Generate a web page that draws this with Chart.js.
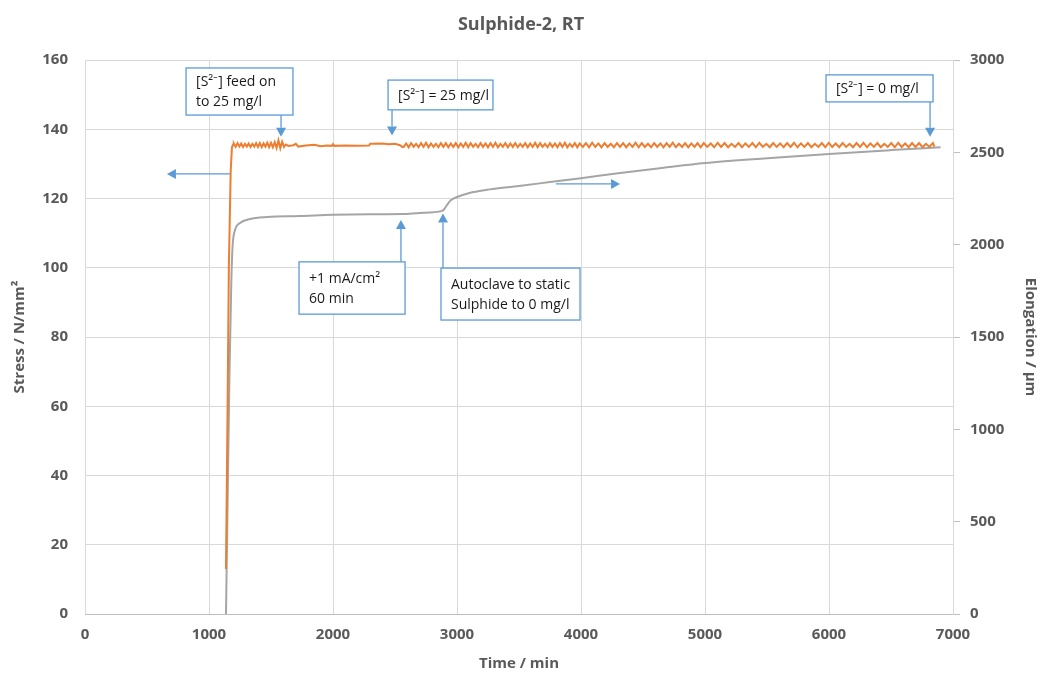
<!DOCTYPE html>
<html>
<head>
<meta charset="utf-8">
<script src="https://cdn.jsdelivr.net/npm/chart.js@4.4.0/dist/chart.umd.min.js"></script>
<style>
  html, body { margin: 0; padding: 0; background: #fff; }
  #wrap { width: 1042px; height: 677px; }
</style>
</head>
<body>
<div id="wrap"><canvas id="myChart" width="1042" height="677"></canvas></div>
<script>
// stress (orange, left axis) - time in min
let stressTime = [
  1137, 1150, 1160, 1175, 1185, 1195,
  1200, 1215, 1230, 1245, 1260, 1275, 1290, 1305, 1320, 1335, 1350, 1365,
  1380, 1395, 1410, 1425, 1440, 1455, 1470, 1485, 1500, 1515, 1530, 1545,
  1560, 1575, 1590, 1605, 1620, 1640, 1680, 1700, 1720, 1780, 1850, 1900,
  1950, 1990, 2000, 2010, 2100, 2200, 2290, 2300, 2400, 2450, 2500, 2540,
  2560,
  2570, 2590, 2610, 2630, 2650, 2670, 2690, 2710, 2730, 2750, 2770, 2790,
  2810, 2830, 2850, 2870, 2890, 2910, 2930, 2950, 2970, 2990, 3010, 3030,
  3050, 3070, 3090, 3110, 3130, 3150, 3170, 3190, 3210, 3230, 3250, 3270,
  3290, 3310, 3330, 3350, 3370, 3390, 3410, 3430, 3450, 3470, 3490, 3510,
  3530, 3550, 3570, 3590, 3610, 3630, 3650, 3670, 3690, 3710, 3730, 3750,
  3770, 3790, 3810, 3830, 3850, 3870, 3890, 3910, 3930, 3950, 3970, 3990,
  4015, 4040, 4065, 4090, 4115, 4140, 4165, 4190, 4215, 4240, 4265, 4290,
  4315, 4340, 4365, 4390, 4415, 4440, 4465, 4490, 4515, 4540, 4565, 4590,
  4615, 4640, 4665, 4690, 4715, 4740, 4765, 4790, 4815, 4840, 4865, 4890,
  4915, 4940, 4965, 4990,
  5018, 5046, 5074, 5102, 5130, 5158, 5186, 5214, 5242, 5270, 5298, 5326,
  5354, 5382, 5410, 5438, 5466, 5494, 5522, 5550, 5578, 5606, 5634, 5662,
  5690, 5718, 5746, 5774, 5802, 5830, 5858, 5886, 5914, 5942, 5970, 5998,
  6026, 6054, 6082, 6110, 6138, 6166, 6194, 6222, 6250, 6278, 6306, 6334,
  6362, 6390, 6418, 6446, 6474, 6502, 6530, 6558, 6586, 6614, 6642, 6670,
  6698, 6726, 6754, 6782, 6810, 6838, 6850
];
let stressValue = [
  13, 60, 100, 128, 134.8, 135.6,
  135.9, 134.9, 136.0, 135.0, 135.9, 134.9, 135.8, 135.0, 135.9, 134.9, 135.8, 135.0,
  136.0, 134.9, 136.0, 134.8, 135.9, 135.0, 136.1, 134.8, 136.1, 134.8, 136.3, 134.6,
  136.8, 134.5, 136.4, 134.9, 135.6, 135.2, 135.4, 135.8, 135.0, 135.3, 135.5, 135.1,
  135.3, 135.2, 135.7, 135.2, 135.3, 135.2, 135.3, 135.8, 135.9, 135.7, 135.8, 135.4,
  134.9,
  134.9, 135.9, 134.8, 136.0, 134.9, 135.8, 134.8, 136.0, 134.9, 136.1, 134.8, 135.9,
  134.9, 135.8, 134.8, 136.0, 134.9, 136.0, 134.8, 135.9, 134.9, 136.0, 134.8, 135.9,
  134.9, 136.1, 134.8, 136.0, 134.9, 135.8, 134.8, 136.0, 134.9, 135.9, 134.8, 136.0,
  134.9, 136.1, 134.8, 135.8, 134.9, 136.0, 134.8, 135.9, 134.9, 136.0, 134.8, 135.8,
  134.9, 136.0, 134.8, 135.9, 134.9, 136.1, 134.8, 136.0, 134.9, 135.8, 134.8, 136.0,
  134.9, 135.9, 134.8, 136.0, 134.9, 136.1, 134.8, 135.8, 134.9, 136.0, 134.8, 135.9,
  134.9, 136.0, 134.8, 136.1, 134.9, 135.9, 134.8, 136.0, 134.9, 135.8, 134.8, 136.0,
  134.9, 136.0, 134.8, 135.9, 134.9, 136.1, 134.8, 136.0, 134.9, 135.8, 134.8, 136.0,
  134.9, 135.9, 134.8, 136.0, 134.9, 136.1, 134.8, 135.8, 134.9, 136.0, 134.8, 135.9,
  134.9, 136.0, 134.8, 136.0,
  134.9, 135.9, 134.8, 136.1, 134.9, 136.0, 134.8, 135.8, 134.9, 136.0, 134.8, 135.9,
  134.9, 136.0, 134.8, 136.1, 134.9, 135.8, 134.8, 136.0, 134.9, 135.9, 134.8, 136.0,
  134.9, 136.1, 134.8, 135.9, 134.9, 136.0, 134.8, 135.8, 134.9, 136.0, 134.8, 136.1,
  134.9, 135.9, 134.8, 136.0, 134.9, 135.8, 134.8, 136.0, 134.9, 136.1, 134.8, 135.9,
  134.9, 136.0, 134.8, 135.8, 134.9, 136.0, 134.8, 136.1, 134.9, 135.9, 134.8, 136.0,
  134.9, 136.0, 134.8, 135.8, 134.9, 136.0, 135.0
];

// elongation (grey, right axis)
let elongTime = [
  1137, 1150, 1165, 1180, 1190, 1210, 1250, 1330, 1470, 1730, 2000, 2300,
  2560, 2700, 2880, 2900, 2920, 2950, 3000, 3100, 3230, 3500, 3750, 4000,
  4315, 4650, 5000, 5500, 6000, 6500, 6900
];
let elongValue = [
  0, 600, 1300, 1800, 1990, 2079, 2117, 2139, 2150, 2155, 2162, 2165,
  2166, 2172, 2183, 2195, 2215, 2240, 2258, 2280, 2296, 2318, 2339, 2360,
  2388, 2415, 2442, 2468, 2491, 2512, 2528
];

// axis ticks
let timeTicks = [0, 1000, 2000, 3000, 4000, 5000, 6000, 7000];
let stressTicks = [0, 20, 40, 60, 80, 100, 120, 140, 160];
let elongTicks = [0, 500, 1000, 1500, 2000, 2500, 3000];

// callout boxes (time / stress units)
let notes = [
  { x0: 815, x1: 1677, y0: 157.7, y1: 144.1, lines: ['[S\u00B2\u207B] feed on', 'to 25 mg/l'] },
  { x0: 2444, x1: 3290, y0: 154.2, y1: 145.6, lines: ['[S\u00B2\u207B] = 25 mg/l'] },
  { x0: 5976, x1: 6839, y0: 155.7, y1: 147.9, lines: ['[S\u00B2\u207B] = 0 mg/l'] },
  { x0: 1726, x1: 2581, y0: 101.7, y1: 86.6, lines: ['+1 mA/cm\u00B2', '60 min'] },
  { x0: 2871, x1: 3992, y0: 99.9, y1: 84.9, lines: ['Autoclave to static', 'Sulphide to 0 mg/l'] }
];
let arrows = [
  { x0: 1581, y0: 144.1, x1: 1581, y1: 137.8 },
  { x0: 2476, y0: 145.6, x1: 2476, y1: 138.2 },
  { x0: 6815, y0: 147.9, x1: 6815, y1: 137.8 },
  { x0: 2548, y0: 101.7, x1: 2548, y1: 113.8 },
  { x0: 2887, y0: 99.9, x1: 2887, y1: 115.7 },
  { x0: 1169, y0: 127.1, x1: 661, y1: 127.1 },
  { x0: 3798, y0: 124.2, x1: 4315, y1: 124.2 }
];

const grey = '#595959';
const blue = '#5b9bd5';

function toPoints(xs, ys) {
  return xs.map((x, i) => ({ x: x, y: ys[i] }));
}

const calloutPlugin = {
  id: 'callouts',
  afterDatasetsDraw(chart) {
    const c = chart.ctx;
    const sx = chart.scales.x, sy = chart.scales.y;
    c.save();
    c.strokeStyle = blue;
    c.fillStyle = blue;
    c.lineWidth = 1.3;
    arrows.forEach(a => {
      let px0 = sx.getPixelForValue(a.x0), py0 = sy.getPixelForValue(a.y0);
      let px1 = sx.getPixelForValue(a.x1), py1 = sy.getPixelForValue(a.y1);
      let ang = Math.atan2(py1 - py0, px1 - px0);
      let len = 9, w = 5;
      let bx = px1 - Math.cos(ang) * len, by = py1 - Math.sin(ang) * len;
      c.beginPath();
      c.moveTo(px0, py0);
      c.lineTo(bx, by);
      c.stroke();
      c.beginPath();
      c.moveTo(px1, py1);
      c.lineTo(bx - Math.sin(ang) * w, by + Math.cos(ang) * w);
      c.lineTo(bx + Math.sin(ang) * w, by - Math.cos(ang) * w);
      c.closePath();
      c.fill();
    });
    notes.forEach(n => {
      let l = sx.getPixelForValue(n.x0), r = sx.getPixelForValue(n.x1);
      let t = sy.getPixelForValue(n.y0), b = sy.getPixelForValue(n.y1);
      c.fillStyle = '#fff';
      c.fillRect(l, t, r - l, b - t);
      c.strokeStyle = blue;
      c.lineWidth = 1.3;
      c.strokeRect(l, t, r - l, b - t);
      c.fillStyle = '#1a1a1a';
      c.font = '14px "Open Sans", sans-serif';
      c.textBaseline = 'middle';
      c.textAlign = 'left';
      let mid = (t + b) / 2 + 1;
      let gap = 20;
      n.lines.forEach((txt, i) => {
        let yy = mid + (i - (n.lines.length - 1) / 2) * gap;
        c.fillText(txt, l + 10, yy);
      });
    });
    c.restore();
  }
};

const tickFont = { family: '"Open Sans", sans-serif', size: 15, weight: 'bold' };
const titleFont = { family: '"Open Sans", sans-serif', size: 15, weight: 'bold', lineHeight: 1.2 };

const ctx = document.getElementById('myChart');
const myChart = new Chart(ctx, {
  type: 'line',
  data: {
    datasets: [{
      label: 'Stress',
      data: toPoints(stressTime, stressValue),
      borderColor: '#ed7d31',
      borderWidth: 2,
      pointRadius: 0,
      tension: 0,
      yAxisID: 'y'
    }, {
      label: 'Elongation',
      data: toPoints(elongTime, elongValue),
      borderColor: '#a5a5a5',
      borderWidth: 2,
      pointRadius: 0,
      cubicInterpolationMode: 'monotone',
      yAxisID: 'y2'
    }]
  },
  options: {
    responsive: false,
    animation: false,
    layout: { padding: 0 },
    plugins: {
      legend: { display: false },
      tooltip: { enabled: false },
      title: {
        display: true,
        text: 'Sulphide-2, RT',
        color: grey,
        font: { family: '"Open Sans", sans-serif', size: 18, weight: 'bold', lineHeight: 1.2 },
        padding: { top: 14, bottom: 24.4 }
      }
    },
    scales: {
      x: {
        type: 'linear',
        min: 0,
        max: 7000,
        afterBuildTicks: s => { s.ticks = timeTicks.map(v => ({ value: v })); },
        afterFit: s => { s.height = 63; },
        grid: { color: '#d9d9d9', drawTicks: false },
        border: { color: '#bfbfbf' },
        ticks: { color: grey, padding: 12, font: tickFont, callback: v => String(v) },
        title: {
          display: true,
          text: 'Time / min',
          color: grey,
          padding: { top: 0, bottom: 4 },
          font: titleFont
        }
      },
      y: {
        position: 'left',
        min: 0,
        max: 160,
        afterBuildTicks: s => { s.ticks = stressTicks.map(v => ({ value: v })); },
        afterFit: s => { s.width = 85; },
        grid: { color: '#d9d9d9', drawTicks: false },
        border: { display: false },
        ticks: { color: grey, padding: 17, font: tickFont },
        title: {
          display: true,
          text: 'Stress / N/mm\u00B2',
          color: grey,
          padding: { top: 11, bottom: 0 },
          font: titleFont
        }
      },
      y2: {
        position: 'right',
        min: 0,
        max: 3000,
        afterBuildTicks: s => { s.ticks = elongTicks.map(v => ({ value: v })); },
        afterFit: s => { s.width = 89; },
        grid: { drawOnChartArea: false, color: '#bfbfbf', tickLength: 7 },
        border: { color: '#d9d9d9' },
        ticks: { color: grey, padding: 10, font: tickFont, callback: v => String(v) },
        title: {
          display: true,
          text: 'Elongation / \u00B5m',
          color: grey,
          padding: { top: 3, bottom: 0 },
          font: titleFont
        }
      }
    }
  },
  plugins: [calloutPlugin]
});
</script>
</body>
</html>
